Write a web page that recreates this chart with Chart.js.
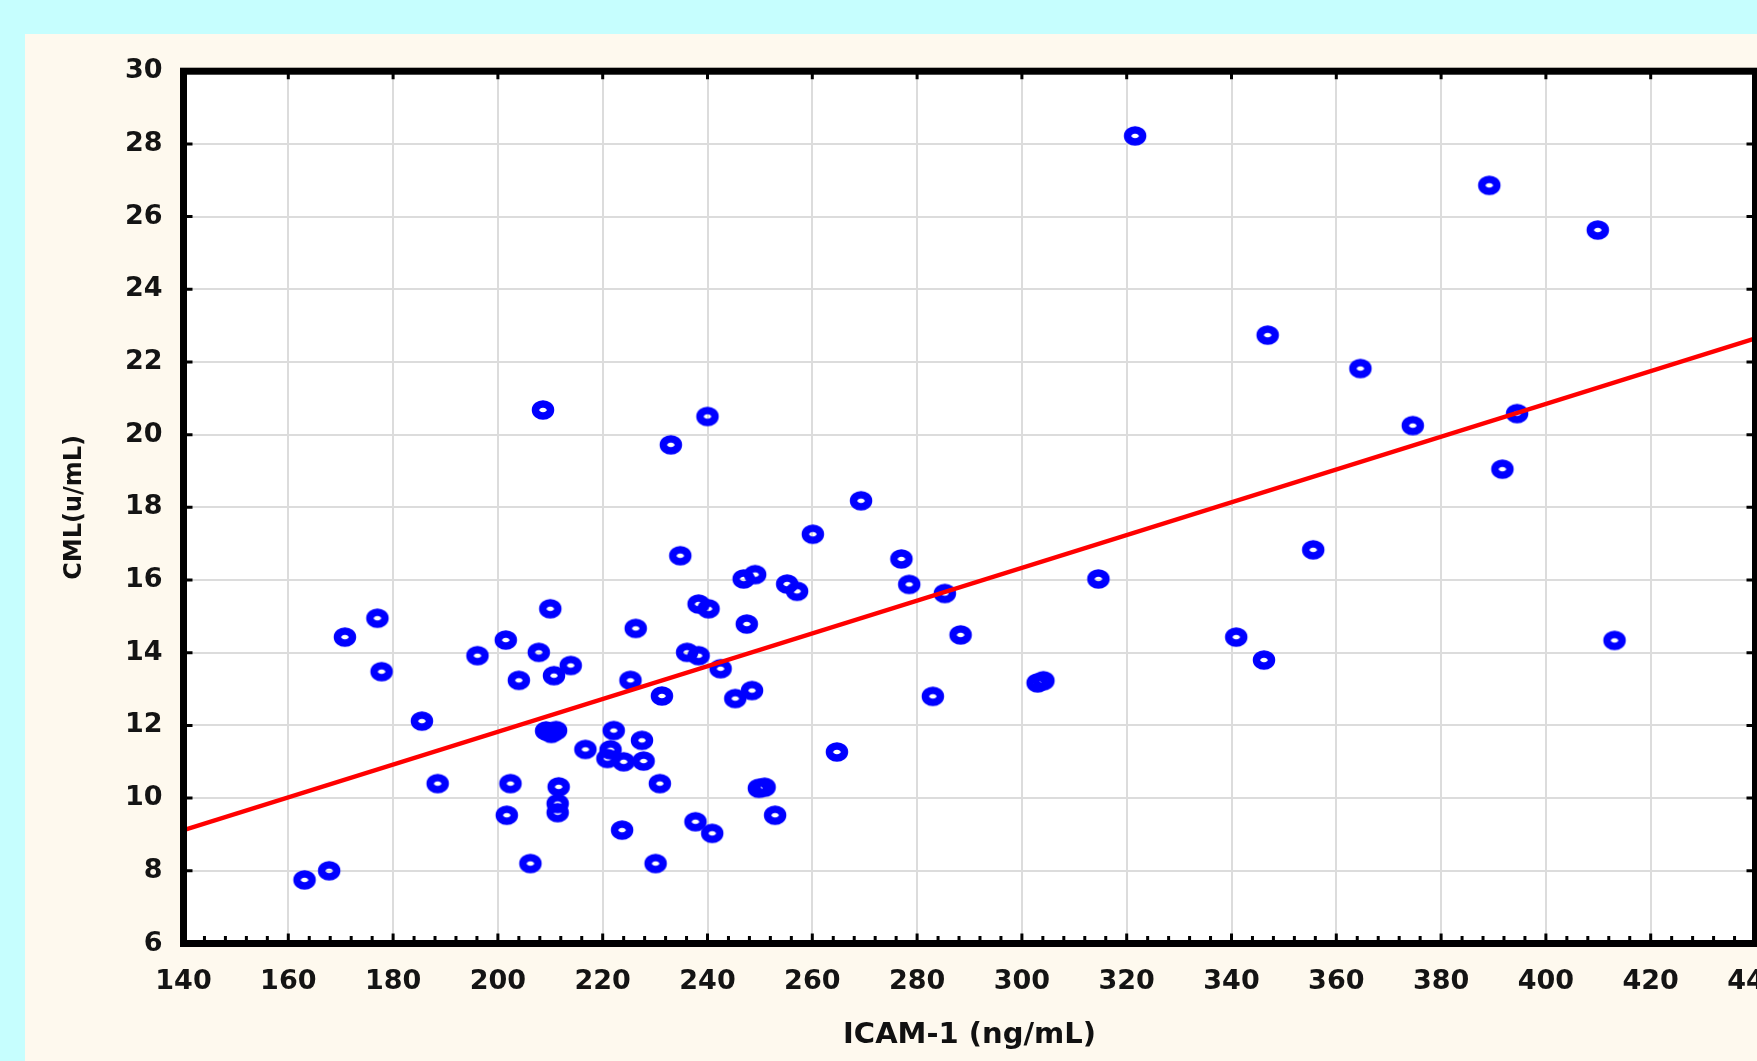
<!DOCTYPE html>
<html>
<head>
<meta charset="utf-8">
<script src="https://cdn.jsdelivr.net/npm/chart.js@4/dist/chart.umd.min.js"></script>
<style>
  html, body { margin: 0; padding: 0; width: 1757px; height: 1061px; overflow: hidden; background: #c6fefe; }
  #cml_icam { position: absolute; left: 25px; top: 34px; background: #fef9ee; }
</style>
</head>
<body>
<canvas id="cml_icam" width="1800" height="1027"></canvas>
<script>
// ICAM-1 vs CML scatter
var icam = [163.1, 167.8, 170.8, 177.0, 177.8, 185.5, 188.5, 196.1, 201.5, 201.7,
            202.4, 204.0, 206.2, 207.8, 208.6, 210.0, 210.7, 209.2, 210.2, 211.1,
            211.6, 211.4, 211.4, 213.9, 216.7, 221.5, 222.1, 220.9, 224.0, 227.8,
            227.5, 223.7, 225.3, 226.3, 230.1, 230.9, 231.3, 233.0, 234.8, 236.1,
            238.3, 238.3, 240.2, 240.0, 237.7, 240.9, 242.5, 245.3, 248.5, 246.9,
            249.1, 247.5, 249.8, 250.9, 252.9, 255.2, 257.1, 260.1, 264.7, 269.3,
            277.0, 278.5, 285.3, 283.0, 288.3, 303.0, 304.1, 314.6, 321.6, 340.9,
            346.2, 346.9, 355.6, 364.6, 374.6, 389.2, 391.7, 394.5, 409.9, 413.1];
var cml = [7.75, 8.0, 14.43, 14.95, 13.48, 12.12, 10.4, 13.92, 14.35, 9.53,
           10.4, 13.24, 8.2, 14.01, 20.68, 15.21, 13.37, 11.85, 11.78, 11.86,
           10.31, 9.85, 9.6, 13.65, 11.34, 11.33, 11.86, 11.09, 11.0, 11.02,
           11.59, 9.12, 13.24, 14.67, 8.2, 10.4, 12.81, 19.72, 16.67, 14.01,
           13.92, 15.34, 15.21, 20.5, 9.35, 9.03, 13.56, 12.74, 12.96, 16.03,
           16.15, 14.79, 10.27, 10.3, 9.53, 15.89, 15.69, 17.26, 11.27, 18.18,
           16.58, 15.88, 15.63, 12.8, 14.49, 13.17, 13.23, 16.03, 28.22, 14.43,
           13.8, 22.74, 16.83, 21.82, 20.25, 26.86, 19.05, 20.58, 25.63, 14.34];

// fitted line, read at the two ends of the x axis
var fitX = [140, 440];
var fitY = [9.12, 22.65];

var xTicks = [140, 160, 180, 200, 220, 240, 260, 280, 300, 320, 340, 360, 380, 400, 420, 440];
var yTicks = [6, 8, 10, 12, 14, 16, 18, 20, 22, 24, 26, 28, 30];

var points = icam.map(function (v, i) { return { x: v, y: cml[i] }; });
var fit = fitX.map(function (v, i) { return { x: v, y: fitY[i] }; });

// thick open blue ellipse used as the marker
var dot = document.createElement('canvas');
dot.width = 26;
dot.height = 22;
var d = dot.getContext('2d');
d.strokeStyle = '#0000ff';
d.lineWidth = 7.5;
d.beginPath();
d.ellipse(13, 11, 7.5, 6, 0, 0, Math.PI * 2);
d.stroke();

// white plot area, black frame and inward tick marks
var frame = {
    id: 'frame',
    beforeDatasetsDraw: function (chart) {
        var a = chart.chartArea, ctx = chart.ctx;
        ctx.save();
        ctx.globalCompositeOperation = 'destination-over';
        ctx.fillStyle = '#ffffff';
        ctx.fillRect(a.left, a.top, a.right - a.left, a.bottom - a.top);
        ctx.restore();
    },
    afterDraw: function (chart) {
        var a = chart.chartArea, ctx = chart.ctx;
        var xs = chart.scales.x, ys = chart.scales.y;
        ctx.save();
        ctx.strokeStyle = '#000000';
        ctx.lineWidth = 7;
        ctx.strokeRect(a.left, a.top, a.right - a.left, a.bottom - a.top);
        ctx.lineWidth = 3;
        ctx.beginPath();
        for (var v = xs.min; v <= xs.max; v += 4) {
            var px = xs.getPixelForValue(v);
            var major = xTicks.indexOf(v) >= 0;
            ctx.moveTo(px, a.bottom);
            ctx.lineTo(px, a.bottom - (major ? 10 : 7.5));
            if (major) {
                ctx.moveTo(px, a.top);
                ctx.lineTo(px, a.top + 8);
            }
        }
        yTicks.forEach(function (t) {
            var py = ys.getPixelForValue(t);
            ctx.moveTo(a.left, py);
            ctx.lineTo(a.left + 9, py);
            ctx.moveTo(a.right, py);
            ctx.lineTo(a.right - 9, py);
        });
        ctx.stroke();
        ctx.restore();
    }
};

var ctx = document.getElementById('cml_icam').getContext('2d');
var chart = new Chart(ctx, {
    type: 'scatter',
    data: {
        datasets: [{
            label: 'CML',
            data: points,
            pointStyle: dot,
            pointRadius: 9,
            pointHoverRadius: 9,
            order: 1
        }, {
            type: 'line',
            label: 'fit',
            data: fit,
            borderColor: '#ff0000',
            borderWidth: 4.5,
            pointRadius: 0,
            fill: false,
            order: 0
        }]
    },
    options: {
        responsive: false,
        animation: false,
        devicePixelRatio: 1,
        layout: {
            padding: { top: 35.5, right: 69.5, bottom: 0, left: 0 }
        },
        plugins: {
            legend: { display: false },
            tooltip: { enabled: false }
        },
        scales: {
            x: {
                type: 'linear',
                min: 140,
                max: 440,
                afterBuildTicks: function (scale) {
                    scale.ticks = xTicks.map(function (v) { return { value: v }; });
                },
                afterFit: function (scale) { scale.height = 117.5; },
                grid: { color: '#dcdcdc', lineWidth: 2, drawTicks: false },
                border: { display: false },
                ticks: {
                    padding: 22,
                    maxRotation: 0,
                    color: '#141414',
                    font: { family: 'DejaVu Sans', size: 27, weight: 'bold' }
                },
                title: {
                    display: true,
                    text: 'ICAM-1 (ng/mL)',
                    color: '#111111',
                    padding: { top: 0, bottom: 8.6 },
                    font: { family: 'DejaVu Sans', size: 29, weight: 'bold' }
                }
            },
            y: {
                type: 'linear',
                min: 6,
                max: 30,
                afterBuildTicks: function (scale) {
                    scale.ticks = yTicks.map(function (v) { return { value: v }; });
                },
                afterFit: function (scale) { scale.width = 158.5; },
                grid: { color: '#dcdcdc', lineWidth: 2, drawTicks: false },
                border: { display: false },
                ticks: {
                    padding: 21,
                    color: '#141414',
                    font: { family: 'DejaVu Sans', size: 27, weight: 'bold' }
                },
                title: {
                    display: true,
                    text: 'CML(u/mL)',
                    color: '#111111',
                    padding: { top: 35.6, bottom: 0 },
                    font: { family: 'DejaVu Sans', size: 24, weight: 'bold' }
                }
            }
        }
    },
    plugins: [frame]
});
</script>
</body>
</html>
